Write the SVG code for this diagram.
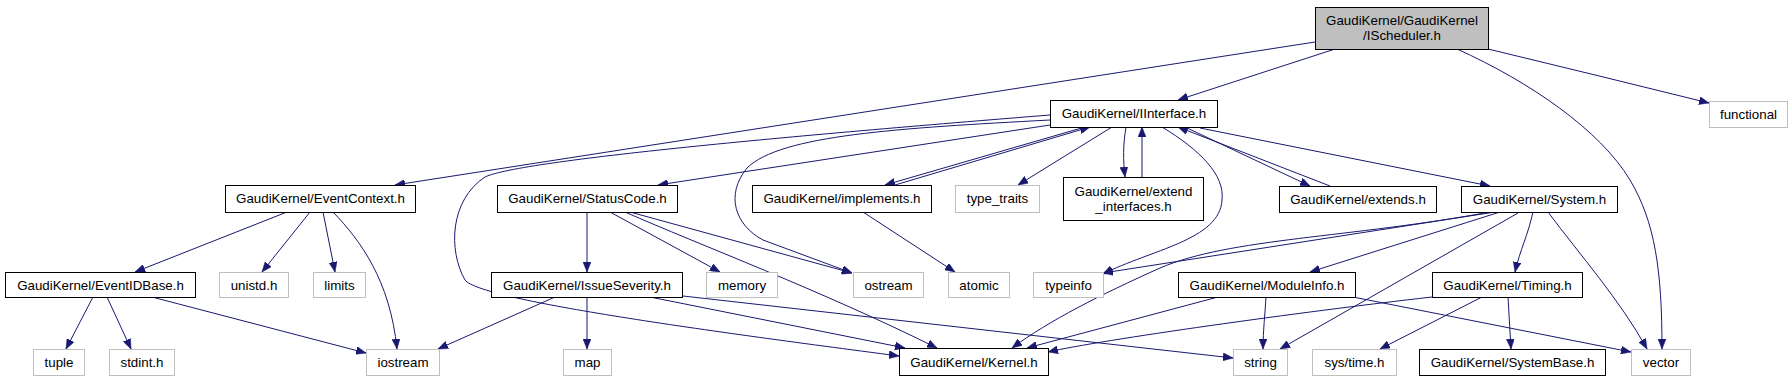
<svg xmlns="http://www.w3.org/2000/svg" width="1792" height="381" viewBox="0 0 1792 381">
<defs>
<marker id="arr" markerUnits="userSpaceOnUse" markerWidth="11" markerHeight="8" refX="10" refY="4" orient="auto">
<path d="M0,0 L10,4 L0,8 z" fill="#191970" stroke="#191970" stroke-width="0.5"/>
</marker>
<style>
.n rect{fill:#fff;stroke:#000;stroke-width:1}
.x rect{fill:#fff;stroke:#bfbfbf;stroke-width:1}
.g rect{fill:#bfbfbf;stroke:#000;stroke-width:1}
text{font-family:"Liberation Sans",Arial,sans-serif;font-size:13.33px;text-anchor:middle;fill:#000}
#edges path{fill:none;stroke:#191970;stroke-width:1;marker-end:url(#arr)}
</style>
</defs>
<rect width="1792" height="381" fill="#fff"/>
<g id="edges">
<path d="M1335,49 L1178,100"/>
<path d="M1315,42 L395,185"/>
<path d="M1488,49 Q1600,76 1709,103"/>
<path d="M1457,49 C1530,82 1600,130 1630,180 C1655,222 1662,270 1662,349"/>
<path d="M1050,125 L658,185"/>
<path d="M1050,120 C900,128 780,135 747,168 C725,195 735,225 763,240 L852,273"/>
<path d="M1050,115 C800,135 520,160 485,177 C450,200 448,250 465,280 C480,300 700,330 899,356"/>
<path d="M1112,127 L1018,185"/>
<path d="M1126,127 C1123,145 1123,160 1125,177"/>
<path d="M1142,177 L1142,127"/>
<path d="M1085,127 L885,185"/>
<path d="M895,185 L1090,127"/>
<path d="M1185,127 L1310,186"/>
<path d="M1330,186 L1178,127"/>
<path d="M1200,128 L1490,186"/>
<path d="M1162,127 C1200,150 1225,175 1222,200 C1220,240 1150,250 1103,274"/>
<path d="M287,212 L135,272"/>
<path d="M310,212 L262,272"/>
<path d="M323,212 L335,272"/>
<path d="M333,212 C360,240 390,280 397,349"/>
<path d="M93,297 L66,349"/>
<path d="M107,297 L131,349"/>
<path d="M152,297 L366,353"/>
<path d="M587,212 L587,272"/>
<path d="M610,212 L720,272"/>
<path d="M630,212 L852,273"/>
<path d="M625,212 C700,245 820,290 937,348"/>
<path d="M555,297 L438,349"/>
<path d="M587,297 L587,349"/>
<path d="M650,297 L905,348"/>
<path d="M683,296 L1233,358"/>
<path d="M863,212 L955,272"/>
<path d="M1495,212 L1103,273"/>
<path d="M1490,212 C1350,238 1230,238 1160,268 C1100,295 1050,320 1012,348"/>
<path d="M1518,213 L1280,349"/>
<path d="M1500,212 L1310,272"/>
<path d="M1533,212 C1528,235 1520,250 1515,272"/>
<path d="M1548,212 C1580,255 1620,300 1647,349"/>
<path d="M1218,297 L1027,348"/>
<path d="M1266,297 C1265,315 1263,330 1263,349"/>
<path d="M1353,297 L1631,352"/>
<path d="M1432,297 C1300,312 1100,340 1048,352"/>
<path d="M1482,297 L1380,349"/>
<path d="M1508,297 L1511,349"/>
</g>
<g id="IScheduler" class="g"><rect x="1315.5" y="7.5" width="173" height="42"/><text x="1402" y="25">GaudiKernel/GaudiKernel</text><text x="1402" y="40">/IScheduler.h</text></g>
<g id="IInterface" class="n"><rect x="1050.5" y="100.5" width="167" height="27"/><text x="1134" y="118">GaudiKernel/IInterface.h</text></g>
<g id="functional" class="x"><rect x="1709.5" y="101.5" width="78" height="26"/><text x="1748.5" y="118.5">functional</text></g>
<g id="EventContext" class="n"><rect x="225.5" y="185.5" width="190" height="27"/><text x="320.5" y="203">GaudiKernel/EventContext.h</text></g>
<g id="StatusCode" class="n"><rect x="497.5" y="185.5" width="180" height="27"/><text x="587.5" y="203">GaudiKernel/StatusCode.h</text></g>
<g id="implements" class="n"><rect x="752.5" y="185.5" width="179" height="27"/><text x="842" y="203">GaudiKernel/implements.h</text></g>
<g id="type_traits" class="x"><rect x="955.5" y="185.5" width="84" height="27"/><text x="997.5" y="203">type_traits</text></g>
<g id="extend_interfaces" class="n"><rect x="1063.5" y="177.5" width="140" height="43"/><text x="1133.5" y="196">GaudiKernel/extend</text><text x="1133.5" y="211">_interfaces.h</text></g>
<g id="extends" class="n"><rect x="1279.5" y="186.5" width="157" height="26"/><text x="1358" y="203.5">GaudiKernel/extends.h</text></g>
<g id="System" class="n"><rect x="1461.5" y="186.5" width="156" height="26"/><text x="1539.5" y="203.5">GaudiKernel/System.h</text></g>
<g id="EventIDBase" class="n"><rect x="5.5" y="272.5" width="190" height="25"/><text x="100.5" y="289.5">GaudiKernel/EventIDBase.h</text></g>
<g id="unistd" class="x"><rect x="219.5" y="272.5" width="69" height="25"/><text x="254" y="289.5">unistd.h</text></g>
<g id="limits" class="x"><rect x="313.5" y="272.5" width="52" height="25"/><text x="339.5" y="289.5">limits</text></g>
<g id="IssueSeverity" class="n"><rect x="491.5" y="272.5" width="191" height="25"/><text x="587" y="289.5">GaudiKernel/IssueSeverity.h</text></g>
<g id="memory" class="x"><rect x="706.5" y="272.5" width="71" height="25"/><text x="742" y="289.5">memory</text></g>
<g id="ostream" class="x"><rect x="853.5" y="272.5" width="70" height="25"/><text x="888.5" y="289.5">ostream</text></g>
<g id="atomic" class="x"><rect x="948.5" y="272.5" width="61" height="25"/><text x="979" y="289.5">atomic</text></g>
<g id="typeinfo" class="x"><rect x="1033.5" y="272.5" width="70" height="25"/><text x="1068.5" y="289.5">typeinfo</text></g>
<g id="ModuleInfo" class="n"><rect x="1178.5" y="272.5" width="177" height="25"/><text x="1267" y="289.5">GaudiKernel/ModuleInfo.h</text></g>
<g id="Timing" class="n"><rect x="1432.5" y="272.5" width="150" height="25"/><text x="1507.5" y="289.5">GaudiKernel/Timing.h</text></g>
<g id="tuple" class="x"><rect x="33.5" y="349.5" width="51" height="26"/><text x="59" y="366.5">tuple</text></g>
<g id="stdint" class="x"><rect x="109.5" y="349.5" width="65" height="26"/><text x="142" y="366.5">stdint.h</text></g>
<g id="iostream" class="x"><rect x="366.5" y="349.5" width="73" height="26"/><text x="403" y="366.5">iostream</text></g>
<g id="map" class="x"><rect x="563.5" y="349.5" width="48" height="26"/><text x="587.5" y="366.5">map</text></g>
<g id="Kernel" class="n"><rect x="899.5" y="348.5" width="149" height="27"/><text x="974" y="366.5">GaudiKernel/Kernel.h</text></g>
<g id="string" class="x"><rect x="1233.5" y="349.5" width="54" height="26"/><text x="1260.5" y="366.5">string</text></g>
<g id="systime" class="x"><rect x="1312.5" y="349.5" width="84" height="26"/><text x="1354.5" y="366.5">sys/time.h</text></g>
<g id="SystemBase" class="n"><rect x="1419.5" y="349.5" width="186" height="26"/><text x="1512.5" y="366.5">GaudiKernel/SystemBase.h</text></g>
<g id="vector" class="x"><rect x="1631.5" y="349.5" width="59" height="26"/><text x="1661" y="366.5">vector</text></g>
</svg>
